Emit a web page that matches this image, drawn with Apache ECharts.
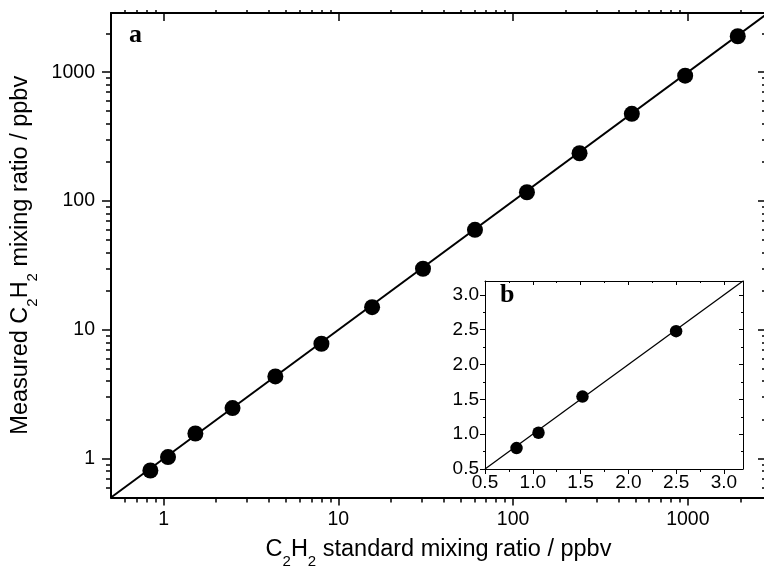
<!DOCTYPE html>
<html>
<head>
<meta charset="utf-8">
<script src="https://cdn.jsdelivr.net/npm/echarts@6/dist/echarts.min.js"></script>
<style>
  html, body { margin: 0; background: #fff; }
  #chart { width: 764px; height: 576px; }
</style>
</head>
<body>
<div id="chart"></div>
<script>
// panel a: standard vs measured C2H2 (ppbv), log-log
var stdRatio  = [0.84, 1.06, 1.52, 2.48, 4.36, 8.0, 15.6, 30.5, 60.5, 120, 240, 478, 965, 1930];
var measRatio = [0.81, 1.03, 1.57, 2.47, 4.35, 7.8, 15.0, 29.8, 59.8, 117, 235, 475, 940, 1900];
var logMajor = [1, 10, 100, 1000];
var logMinor = [0.6, 0.7, 0.8, 0.9, 2, 3, 4, 5, 6, 7, 8, 9, 20, 30, 40, 50, 60, 70, 80, 90,
                200, 300, 400, 500, 600, 700, 800, 900, 2000];
var fitLine = [[0.5, 0.5], [2800, 2800]];

// panel b: low range inset, linear
var insetStd  = [0.83, 1.06, 1.52, 2.50];
var insetMeas = [0.80, 1.02, 1.54, 2.48];
var insetMajor = [0.5, 1.0, 1.5, 2.0, 2.5, 3.0];
var insetMinor = [0.75, 1.25, 1.75, 2.25, 2.75];
var insetLine = [[0.5, 0.5], [3.2, 3.2]];

var FONT = '"Liberation Sans", Arial, sans-serif';

function zip(a, b) {
  return a.map(function (v, i) { return [v, b[i]]; });
}

// one axis = one set of ticks; stacked copies give major / minor ticks on every side
function logAxis(pos, ticks, len, inside, opts) {
  var ax = {
    type: 'log', gridIndex: 0, position: pos,
    min: 0.5, max: pos === 'bottom' || pos === 'top' ? 2800 : 2880,
    splitLine: { show: false },
    axisLine: { show: false, lineStyle: { color: '#000', width: 2 } },
    axisTick: { show: true, customValues: ticks, length: len, inside: inside,
                lineStyle: { color: '#000', width: 1.5 } },
    axisLabel: { show: false }
  };
  return Object.assign(ax, opts || {});
}

function linAxis(pos, ticks, len, inside, opts) {
  var ax = {
    type: 'value', gridIndex: 1, position: pos,
    min: 0.5, max: 3.2,
    splitLine: { show: false },
    axisLine: { show: false, lineStyle: { color: '#000', width: 1 } },
    axisTick: { show: true, customValues: ticks, length: len, inside: inside,
                lineStyle: { color: '#000', width: 1 } },
    axisLabel: { show: false }
  };
  return Object.assign(ax, opts || {});
}

var titleRich = {
  n: { fontSize: 23.5, lineHeight: 24, fontFamily: FONT, color: '#000', verticalAlign: 'top' },
  s: { fontSize: 15, lineHeight: 15, fontFamily: FONT, color: '#000', verticalAlign: 'top',
       padding: [17, 0, 0, 0] }
};

var xAxes = [
  logAxis('bottom', logMajor, 8, false, {
    axisLine: { show: true, lineStyle: { color: '#000', width: 2 } },
    axisLabel: { show: true, customValues: logMajor, fontSize: 19.5, color: '#000',
                 fontFamily: FONT, margin: 12,
                 formatter: function (v) { return String(v); } },
    name: '{n|C}{s|2}{n|H}{s|2}{n| standard mixing ratio / ppbv}',
    nameLocation: 'middle', nameGap: 40,
    nameTextStyle: { rich: titleRich }
  }),
  logAxis('bottom', logMinor, 5, false),
  logAxis('top', logMajor, 8, true, {
    axisLine: { show: true, lineStyle: { color: '#000', width: 2 } }
  }),
  logAxis('top', logMinor, 3, false),
  linAxis('bottom', insetMajor, 5, false, {
    axisLine: { show: true, lineStyle: { color: '#000', width: 1 } },
    axisLabel: { show: true, customValues: insetMajor, fontSize: 19, color: '#000',
                 fontFamily: FONT, margin: 4,
                 formatter: function (v) { return v.toFixed(1); } }
  }),
  linAxis('bottom', insetMinor, 3, false),
  linAxis('top', insetMajor, 4, true, {
    axisLine: { show: true, lineStyle: { color: '#000', width: 1 } }
  }),
  linAxis('top', insetMinor, 2, true)
];

var yAxes = [
  logAxis('left', logMajor, 9, false, {
    axisLine: { show: true, lineStyle: { color: '#000', width: 2 } },
    axisLabel: { show: true, customValues: logMajor, fontSize: 19.5, color: '#000',
                 fontFamily: FONT, margin: 16,
                 formatter: function (v) { return String(v); } },
    name: '{n|Measured C}{s|2}{n|H}{s|2}{n| mixing ratio / ppbv}',
    nameLocation: 'middle', nameGap: 59,
    nameTextStyle: { rich: titleRich }
  }),
  logAxis('left', logMinor, 5, false),
  logAxis('right', logMajor, 8, true, {
    axisLine: { show: true, lineStyle: { color: '#000', width: 2 } }
  }),
  logAxis('right', logMinor, 4, true),
  linAxis('left', insetMajor, 5, false, {
    axisLine: { show: true, lineStyle: { color: '#000', width: 1 } },
    axisLabel: { show: true, customValues: insetMajor, fontSize: 19, color: '#000',
                 fontFamily: FONT, margin: 6,
                 formatter: function (v) { return v.toFixed(1); } }
  }),
  linAxis('left', insetMinor, 2, false),
  linAxis('right', insetMajor, 4, true, {
    axisLine: { show: true, lineStyle: { color: '#000', width: 1 } }
  }),
  linAxis('right', insetMinor, 2, true)
];

var chart = echarts.init(document.getElementById('chart'), null, { renderer: 'canvas' });
chart.setOption({
  animation: false,
  backgroundColor: '#fff',
  grid: [
    { left: 111, top: 13, right: -2, bottom: 78.5, outerBoundsMode: 'none' },
    { left: 485, top: 281, width: 258, height: 188, outerBoundsMode: 'none',
      show: true, backgroundColor: '#fff', borderWidth: 0 }
  ],
  xAxis: xAxes,
  yAxis: yAxes,
  graphic: [
    { type: 'text', left: 129, top: 22, z: 10,
      style: { text: 'a', font: 'bold 26px "Liberation Serif", "Times New Roman", serif', fill: '#000' } },
    { type: 'text', left: 500, top: 282, z: 10,
      style: { text: 'b', font: 'bold 26px "Liberation Serif", "Times New Roman", serif', fill: '#000' } }
  ],
  series: [
    { type: 'line', xAxisIndex: 0, yAxisIndex: 0, data: fitLine, symbol: 'none',
      lineStyle: { color: '#000', width: 2 }, z: 2 },
    { type: 'scatter', xAxisIndex: 0, yAxisIndex: 0, data: zip(stdRatio, measRatio),
      symbol: 'circle', symbolSize: 16, itemStyle: { color: '#000', opacity: 1 }, z: 3 },
    { type: 'line', xAxisIndex: 4, yAxisIndex: 4, data: insetLine, symbol: 'none',
      lineStyle: { color: '#000', width: 1.3 }, z: 2 },
    { type: 'scatter', xAxisIndex: 4, yAxisIndex: 4, data: zip(insetStd, insetMeas),
      symbol: 'circle', symbolSize: 12.5, itemStyle: { color: '#000', opacity: 1 }, z: 3 }
  ]
});
</script>
</body>
</html>
